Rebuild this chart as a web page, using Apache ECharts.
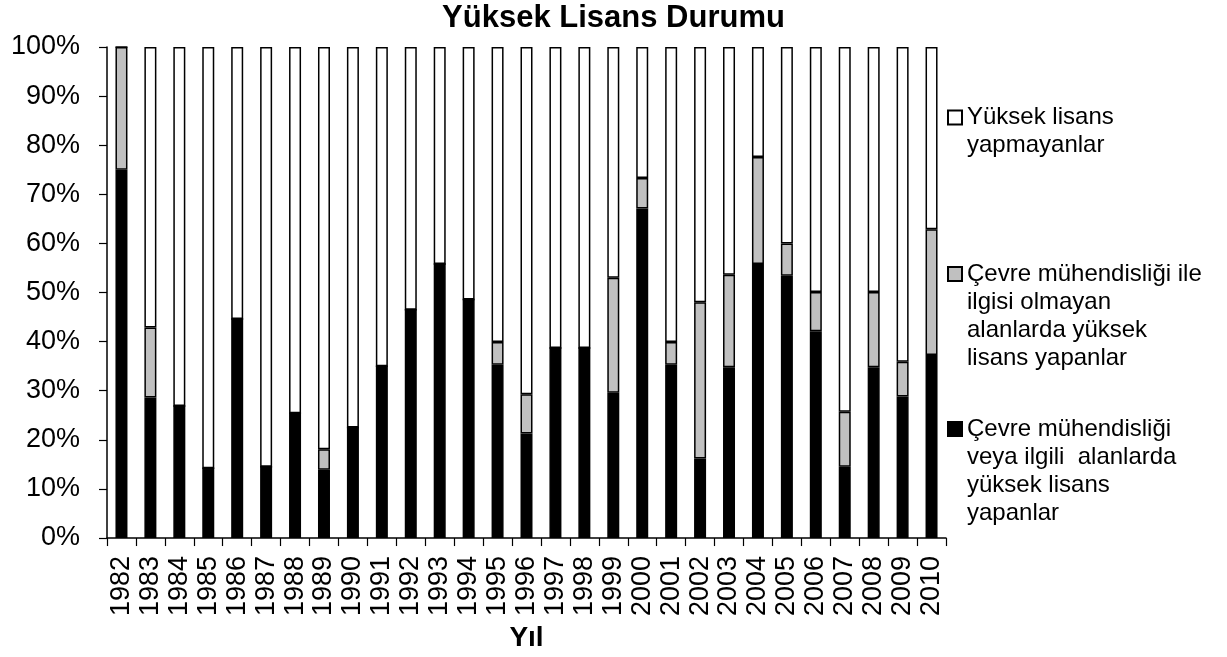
<!DOCTYPE html>
<html>
<head>
<meta charset="utf-8">
<script src="https://cdn.jsdelivr.net/npm/echarts@6/dist/echarts.min.js"></script>
<style>
html,body{margin:0;padding:0;background:#fff;}
#chart{width:1227px;height:657px;}
</style>
</head>
<body>
<div id="chart"></div>
<script>
const years = ['1982','1983','1984','1985','1986','1987','1988','1989','1990','1991','1992','1993','1994','1995','1996','1997','1998','1999','2000','2001','2002','2003','2004','2005','2006','2007','2008','2009','2010'];
// Çevre mühendisliği veya ilgili alanlarda yüksek lisans yapanlar (black)
const relatedMSc = [75.0,28.6,26.9,14.2,44.6,14.5,25.4,13.9,22.5,35.0,46.5,55.8,48.6,35.3,21.3,38.7,38.7,29.6,67.1,35.3,16.2,34.8,55.8,53.4,42.1,14.5,34.8,28.8,37.3];
// Çevre mühendisliği ile ilgisi olmayan alanlarda yüksek lisans yapanlar (gray)
const unrelatedMSc = [25.0,14.3,0,0,0,0,0,4.2,0,0,0,0,0,4.6,8.0,0,0,23.4,6.2,4.6,31.8,18.8,21.8,6.6,8.0,11.2,15.3,7.1,25.6];
// Yüksek lisans yapmayanlar (white)
const noMSc = [0,57.1,73.1,85.8,55.4,85.5,74.6,81.9,77.5,65.0,53.5,44.2,51.4,60.1,70.7,61.3,61.3,47.0,26.7,60.1,52.0,46.4,22.4,40.0,49.9,74.3,49.9,64.1,37.1];
const yTicks = {min:0, max:100, interval:10};

const nameWhite = 'Yüksek lisans\nyapmayanlar';
const nameGray = 'Çevre mühendisliği ile\nilgisi olmayan\nalanlarda yüksek\nlisans yapanlar';
const nameBlack = 'Çevre mühendisliği\nveya ilgili  alanlarda\nyüksek lisans\nyapanlar';

const FONT = 'Liberation Sans, Arial, sans-serif';
const LH = 28;

function legendFor(name, lines, top){
  // blank lines above the text so the icon lines up with the first text line
  const pad = '\n'.repeat(lines - 1);
  return {
    data:[name],
    formatter: function(n){ return pad + n; },
    orient:'vertical', left:947, top:top, padding:0,
    itemWidth:14, itemHeight:14, itemGap:0, icon:'rect',
    textStyle:{fontFamily:FONT, fontSize:24, color:'#000', lineHeight:LH}
  };
}

const chart = echarts.init(document.getElementById('chart'), null, {renderer:'canvas'});
chart.setOption({
  animation:false,
  backgroundColor:'#fff',
  title:{text:'Yüksek Lisans Durumu', left:'center', top:3, padding:0,
    textStyle:{fontFamily:FONT, fontSize:31, fontWeight:'bold', color:'#000'}},
  legend:[legendFor(nameWhite,2,75.5), legendFor(nameGray,4,176), legendFor(nameBlack,4,331)],
  grid:{left:107, right:281, top:47, bottom:117, containLabel:false},
  xAxis:{type:'category', data:years,
    name:'Yıl', nameLocation:'middle', nameGap:81,
    nameTextStyle:{fontFamily:FONT, fontSize:28, fontWeight:'bold', color:'#000'},
    axisLine:{lineStyle:{color:'#000', width:1.5}},
    axisTick:{show:true, length:8, lineStyle:{color:'#000', width:1.2}},
    axisLabel:{rotate:90, margin:18, fontFamily:FONT, fontSize:27, color:'#000', interval:0},
    splitLine:{show:false}},
  yAxis:{type:'value', min:yTicks.min, max:yTicks.max, interval:yTicks.interval,
    axisLine:{show:true, lineStyle:{color:'#000', width:1.5}},
    axisTick:{show:true, length:8, lineStyle:{color:'#000', width:1.2}},
    axisLabel:{formatter:'{value}%', margin:27, fontFamily:FONT, fontSize:27, color:'#000'},
    splitLine:{show:false}},
  series:[
    {name:nameBlack, type:'bar', stack:'s', data:relatedMSc, barWidth:12,
      itemStyle:{color:'#000', borderColor:'#000', borderWidth:1.5}},
    {name:nameGray, type:'bar', stack:'s', data:unrelatedMSc, barWidth:12,
      itemStyle:{color:'#c0c0c0', borderColor:'#000', borderWidth:1.5}},
    {name:nameWhite, type:'bar', stack:'s', data:noMSc, barWidth:12,
      itemStyle:{color:'#fff', borderColor:'#000', borderWidth:1.5}}
  ]
});
</script>
</body>
</html>
